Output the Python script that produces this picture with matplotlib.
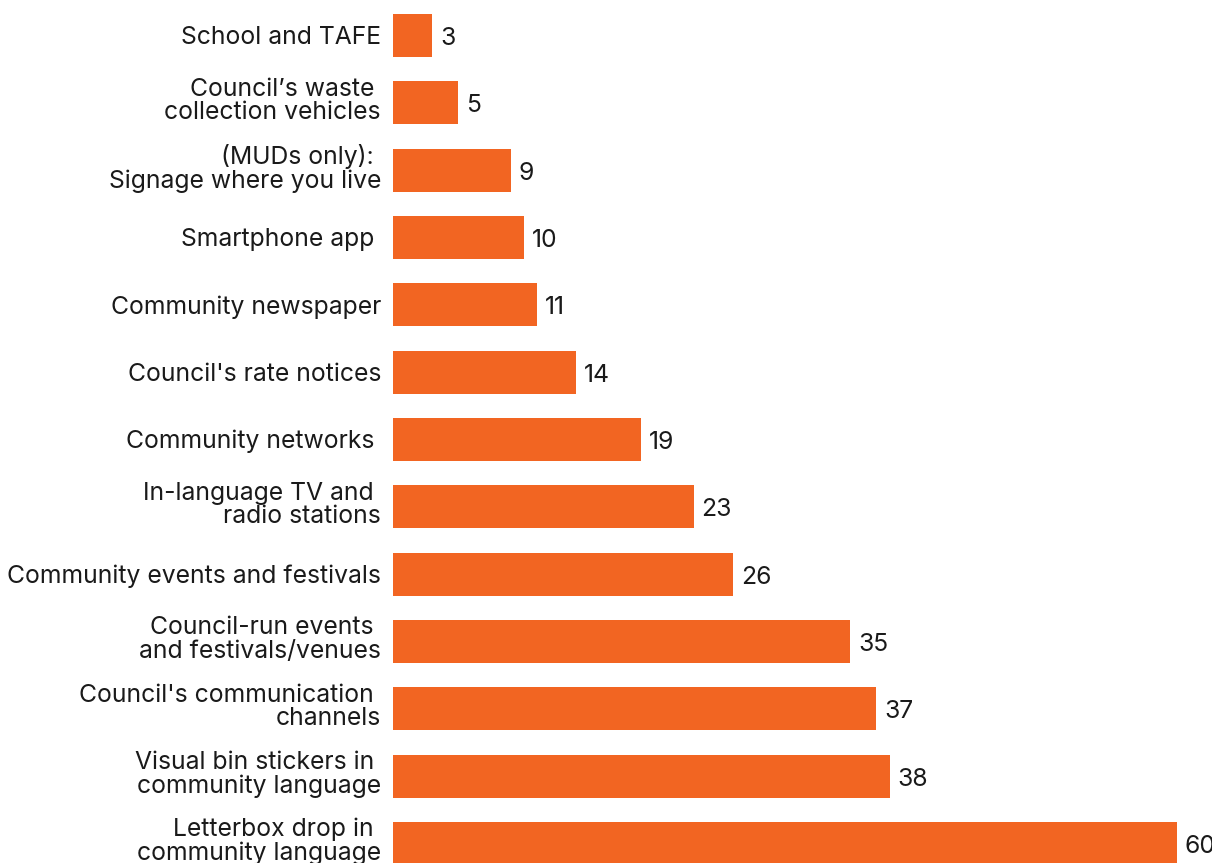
import matplotlib
matplotlib.use("Agg")
import matplotlib.pyplot as plt
from matplotlib.transforms import offset_copy

categories = [
    "School and TAFE",
    "Council\u2019s waste \ncollection vehicles",
    "(MUDs only): \nSignage where you live",
    "Smartphone app ",
    "Community newspaper",
    "Council's rate notices",
    "Community networks ",
    "In-language TV and \nradio stations",
    "Community events and festivals",
    "Council-run events \nand festivals/venues",
    "Council's communication \nchannels",
    "Visual bin stickers in \ncommunity language",
    "Letterbox drop in \ncommunity language",
]
values = [3, 5, 9, 10, 11, 14, 19, 23, 26, 35, 37, 38, 60]

BAR_COLOR = "#F26522"
FONT = ["Inter", "DejaVu Sans"]
FS = 17.8

fig = plt.figure(figsize=(12.12, 8.63), dpi=100)
ax = fig.add_axes([393 / 1212, 0, 784 / 1212, 1])
positions = list(range(len(categories)))
ax.barh(positions, values, height=0.64, color=BAR_COLOR)
ax.set_xlim(0, 60)
ax.set_ylim((863 - 35.5) / 67.33, -35.5 / 67.33)
ax.axis("off")

lab_single = offset_copy(ax.transData, fig=fig, x=-12, y=-2, units="dots")
lab_multi = offset_copy(ax.transData, fig=fig, x=-12, y=2, units="dots")
for p, c in zip(positions, categories):
    tr = lab_multi if "\n" in c else lab_single
    ax.text(0, p, c, transform=tr, ha="right", va="center",
            fontsize=FS, family=FONT, linespacing=1.02, color="#1a1a1a",
            clip_on=False)

val_tr = offset_copy(ax.transData, fig=fig, x=8, y=-3, units="dots")
for p, v in zip(positions, values):
    ax.text(v, p, str(v), transform=val_tr, ha="left", va="center",
            fontsize=FS, family=FONT, color="#1a1a1a", clip_on=False)

fig.savefig("out.png", dpi=100, facecolor="white")
